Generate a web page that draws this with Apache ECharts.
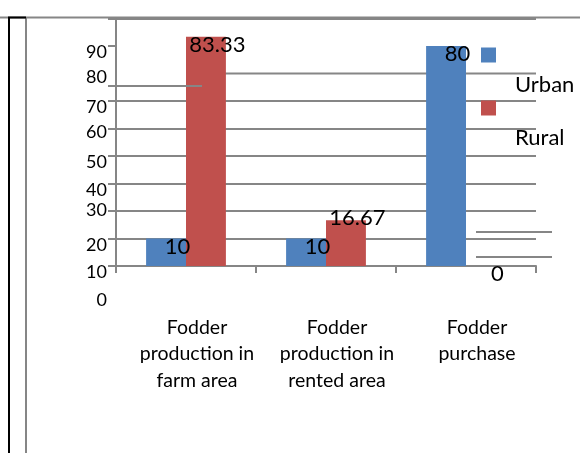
<!DOCTYPE html>
<html>
<head>
<meta charset="utf-8">
<script src="https://cdn.jsdelivr.net/npm/echarts@6/dist/echarts.min.js"></script>
<style>
html, body { margin: 0; padding: 0; background: #fff; }
#chart { width: 580px; height: 453px; }
</style>
</head>
<body>
<div id="chart"></div>
<script>
// Fodder sources, share of farms (%) by location
const categories = ['Fodder\nproduction in\nfarm area', 'Fodder\nproduction in\nrented area', 'Fodder\npurchase'];
const seriesNames = ['Urban', 'Rural'];
const urbanValues = [10, 10, 80];
const ruralValues = [83.33, 16.67, 0];
const tickLabels = [0, 10, 20, 30, 40, 50, 60, 70, 80, 90];

const FONT = 'Lato, "Open Sans", sans-serif';
const GRAY = '#868686';
const BLUE = '#4F81BD';
const RED = '#C0504D';

const chart = echarts.init(document.getElementById('chart'), null, { renderer: 'canvas' });

const labelBase = {
  show: true,
  position: ['50%', 0],
  offset: [11.5, 8],
  align: 'center',
  verticalAlign: 'middle',
  fontSize: 22,
  fontFamily: FONT,
  color: '#000'
};

// split line colours follow tick order 0..90; 70 and 90 are drawn separately
const splitColors = tickLabels.map(v => (v === 70 || v === 90) ? 'rgba(0,0,0,0)' : GRAY);

// legend names sit below and to the right of their swatch
const legendText = {
  fontSize: 22,
  fontFamily: FONT,
  color: '#000',
  rich: {
    g: { fontSize: 22, lineHeight: 59, fontFamily: FONT },
    t: { fontSize: 22, lineHeight: 22, fontFamily: FONT, color: '#000', padding: [0, 0, 0, 14] }
  }
};
const legendFormatter = name => '{g| }\n{t|' + name + '}';

chart.setOption({
  animation: false,
  backgroundColor: '#fff',
  grid: [
    { left: 116, right: 44, top: 18.5, bottom: 187 },
    { left: 116, right: 44, top: 52, bottom: 153, show: false }
  ],
  legend: [
    {
      data: [seriesNames[0]], left: 481, top: 33, padding: 0,
      itemWidth: 15, itemHeight: 15, icon: 'rect', selectedMode: false,
      formatter: legendFormatter, textStyle: legendText
    },
    {
      data: [seriesNames[1]], left: 481, top: 86, padding: 0,
      itemWidth: 15, itemHeight: 15, icon: 'rect', selectedMode: false,
      formatter: legendFormatter, textStyle: legendText
    }
  ],
  xAxis: [
    {
      type: 'category',
      gridIndex: 0,
      data: categories,
      axisLine: { lineStyle: { color: GRAY, width: 2 } },
      axisTick: { show: true, length: 7, lineStyle: { color: GRAY, width: 2 } },
      axisLabel: {
        margin: 48,
        fontSize: 19.5,
        lineHeight: 26.5,
        fontFamily: FONT,
        color: '#000',
        padding: [0, 0, 0, 22],
        interval: 0
      },
      splitLine: { show: false }
    },
    { type: 'value', gridIndex: 1, show: false }
  ],
  yAxis: [
    {
      type: 'value',
      gridIndex: 0,
      min: 0,
      max: 90,
      interval: 10,
      axisLine: { show: true, lineStyle: { color: GRAY, width: 2 } },
      axisTick: {
        show: true, length: 8,
        customValues: tickLabels.filter(v => v !== 70),
        lineStyle: { color: GRAY, width: 2 }
      },
      axisLabel: { show: false },
      splitLine: { show: true, lineStyle: { color: splitColors, width: 2 } }
    },
    {
      type: 'value',
      gridIndex: 1,
      min: 0,
      max: 90,
      interval: 10,
      axisLine: { show: false },
      axisTick: { show: false },
      splitLine: { show: false },
      axisLabel: {
        margin: 9,
        fontSize: 18,
        fontFamily: FONT,
        color: '#000',
        formatter: v => (v === 30 ? '{up7|30}' : (v === 80 || v === 60) ? '{up2|' + v + '}' : String(v)),
        rich: {
          up7: { fontSize: 18, fontFamily: FONT, color: '#000', padding: [0, 0, 14, 0] },
          up2: { fontSize: 18, fontFamily: FONT, color: '#000', padding: [0, 0, 5, 0] }
        }
      }
    }
  ],
  series: [
    {
      name: seriesNames[0],
      type: 'bar',
      xAxisIndex: 0,
      yAxisIndex: 0,
      barGap: '0%',
      barCategoryGap: '43%',
      itemStyle: { color: BLUE },
      label: labelBase,
      data: urbanValues
    },
    {
      name: seriesNames[1],
      type: 'bar',
      xAxisIndex: 0,
      yAxisIndex: 0,
      barGap: '0%',
      barCategoryGap: '43%',
      itemStyle: { color: RED },
      label: labelBase,
      data: ruralValues.map((v, i) => i === 1 ? { value: v, label: { offset: [11.5, -2] } } : v)
    }
  ]
});

// frame and stray rule lines
const y70 = chart.convertToPixel({ yAxisIndex: 0 }, 70);
const seg = (x1, y1, x2, y2, color, z) => ({
  type: 'line',
  z: z || 1,
  shape: { x1, y1, x2, y2 },
  style: { stroke: color, lineWidth: 2 }
});

chart.setOption({
  graphic: [
    seg(0, 17.5, 580, 17.5, GRAY),
    seg(8, 17.5, 26, 17.5, '#000', 5),
    seg(9, 17, 9, 453, '#000'),
    seg(26, 17, 26, 453, GRAY),
    seg(108, 86, 202, 86, GRAY, 10),
    seg(225, y70, 536, y70, GRAY),
    seg(476, 232, 552, 232, GRAY),
    seg(476, 257, 552, 257, GRAY)
  ]
});
</script>
</body>
</html>
